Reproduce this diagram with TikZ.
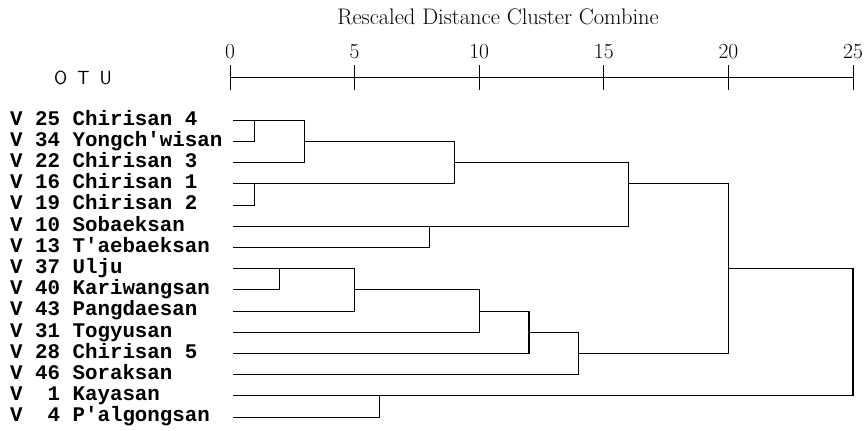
\documentclass[tikz,border=0pt]{standalone}
\usepackage{fontspec}
\newfontfamily\otufont{Liberation Mono}[BoldFont={Liberation Mono Bold}]
\tikzset{
  leaf/.style={anchor=base west, inner sep=0pt, font=\otufont\bfseries\fontsize{20.8}{24}\selectfont},
  scalelabel/.style={anchor=base, inner sep=0pt, font=\fontsize{21.5}{24}\selectfont},
  link/.style={line width=1.1pt, line join=miter},
}
\begin{document}
\begin{tikzpicture}[x=1pt, y=-1pt]
      \useasboundingbox (0,0) rectangle (868,431);
      % heading and scale
      \node (title) at (498,17) {\fontsize{22.5}{26}\selectfont Rescaled Distance Cluster Combine};
      \node (otu) at (83,78) {\sffamily\fontsize{19}{22}\selectfont O\hspace{10pt}T\hspace{10pt}U};
      \draw
        (230,58) node[scalelabel] (s0){0}
        (354.6,58) node[scalelabel] (s5){5}
        (479.2,58) node[scalelabel] (s10){10}
        (603.8,58) node[scalelabel] (s15){15}
        (728.4,58) node[scalelabel] (s20){20}
        (853,58) node[scalelabel] (s25){25};
      \coordinate (ax0) at (230,77);
      \coordinate (ax25) at (853,77);
      \begin{scope}[line width=0.9pt]
        \draw (ax0) to (ax25);
        \draw (230,65) to (230,90);
        \draw (354.6,65) to (354.6,90);
        \draw (479.2,65) to (479.2,90);
        \draw (603.8,65) to (603.8,90);
        \draw (728.4,65) to (728.4,90);
        \draw (853,65) to (853,90);
      \end{scope}
      % cases
      \draw
        (10,125) node[leaf] (lab25){V 25 Chirisan 4}
        (10,146.2) node[leaf] (lab34){V 34 Yongch'wisan}
        (10,167.4) node[leaf] (lab22){V 22 Chirisan 3}
        (10,188.6) node[leaf] (lab16){V 16 Chirisan 1}
        (10,209.8) node[leaf] (lab19){V 19 Chirisan 2}
        (10,231) node[leaf] (lab10){V 10 Sobaeksan}
        (10,252.2) node[leaf] (lab13){V 13 T'aebaeksan}
        (10,273.4) node[leaf] (lab37){V 37 Ulju}
        (10,294.6) node[leaf] (lab40){V 40 Kariwangsan}
        (10,315.8) node[leaf] (lab43){V 43 Pangdaesan}
        (10,337) node[leaf] (lab31){V 31 Togyusan}
        (10,358.2) node[leaf] (lab28){V 28 Chirisan 5}
        (10,379.4) node[leaf] (lab46){V 46 Soraksan}
        (10,400.6) node[leaf] (lab1){V \ 1 Kayasan}
        (10,421.8) node[leaf] (lab4){V \ 4 P'algongsan};
      \coordinate (v25) at (233,120.3);
      \coordinate (v34) at (233,141.5);
      \coordinate (v22) at (233,162.7);
      \coordinate (v16) at (233,183.9);
      \coordinate (v19) at (233,205.1);
      \coordinate (v10) at (233,226.3);
      \coordinate (v13) at (233,247.5);
      \coordinate (v37) at (233,268.7);
      \coordinate (v40) at (233,289.9);
      \coordinate (v43) at (233,311.1);
      \coordinate (v31) at (233,332.3);
      \coordinate (v28) at (233,353.5);
      \coordinate (v46) at (233,374.7);
      \coordinate (v1) at (233,395.9);
      \coordinate (v4) at (233,417.1);
      % joins
      \coordinate (m1) at (254.9,120.3);
      \coordinate (m2) at (304.8,141.5);
      \coordinate (m3) at (254.9,183.9);
      \coordinate (m4) at (454.3,162.7);
      \coordinate (m5) at (429.4,226.3);
      \coordinate (m6) at (628.7,183.9);
      \coordinate (m7) at (279.8,268.7);
      \coordinate (m8) at (354.6,289.9);
      \coordinate (m9) at (479.2,311.1);
      \coordinate (m10) at (529,332.3);
      \coordinate (m11) at (578.9,353.5);
      \coordinate (m12) at (728.4,268.7);
      \coordinate (m13) at (379.5,395.9);
      \coordinate (m14) at (853,332.3);
      \begin{scope}[link]
        \draw (v25) -| (m1) |- (v34);
        \draw (m1) -| (m2) |- (v22);
        \draw (v16) -| (m3) |- (v19);
        \draw (m2) -| (m4) |- (m3);
        \draw (v10) -| (m5) |- (v13);
        \draw (m4) -| (m6) |- (m5);
        \draw (v37) -| (m7) |- (v40);
        \draw (m7) -| (m8) |- (v43);
        \draw (m8) -| (m9) |- (v31);
        \draw (m9) -| (m10) |- (v28);
        \draw (m10) -| (m11) |- (v46);
        \draw (m6) -| (m12) |- (m11);
        \draw (v1) -| (m13) |- (v4);
        \draw (m12) -| (m14) |- (m13);
      \end{scope}
    \end{tikzpicture}
\end{document}
